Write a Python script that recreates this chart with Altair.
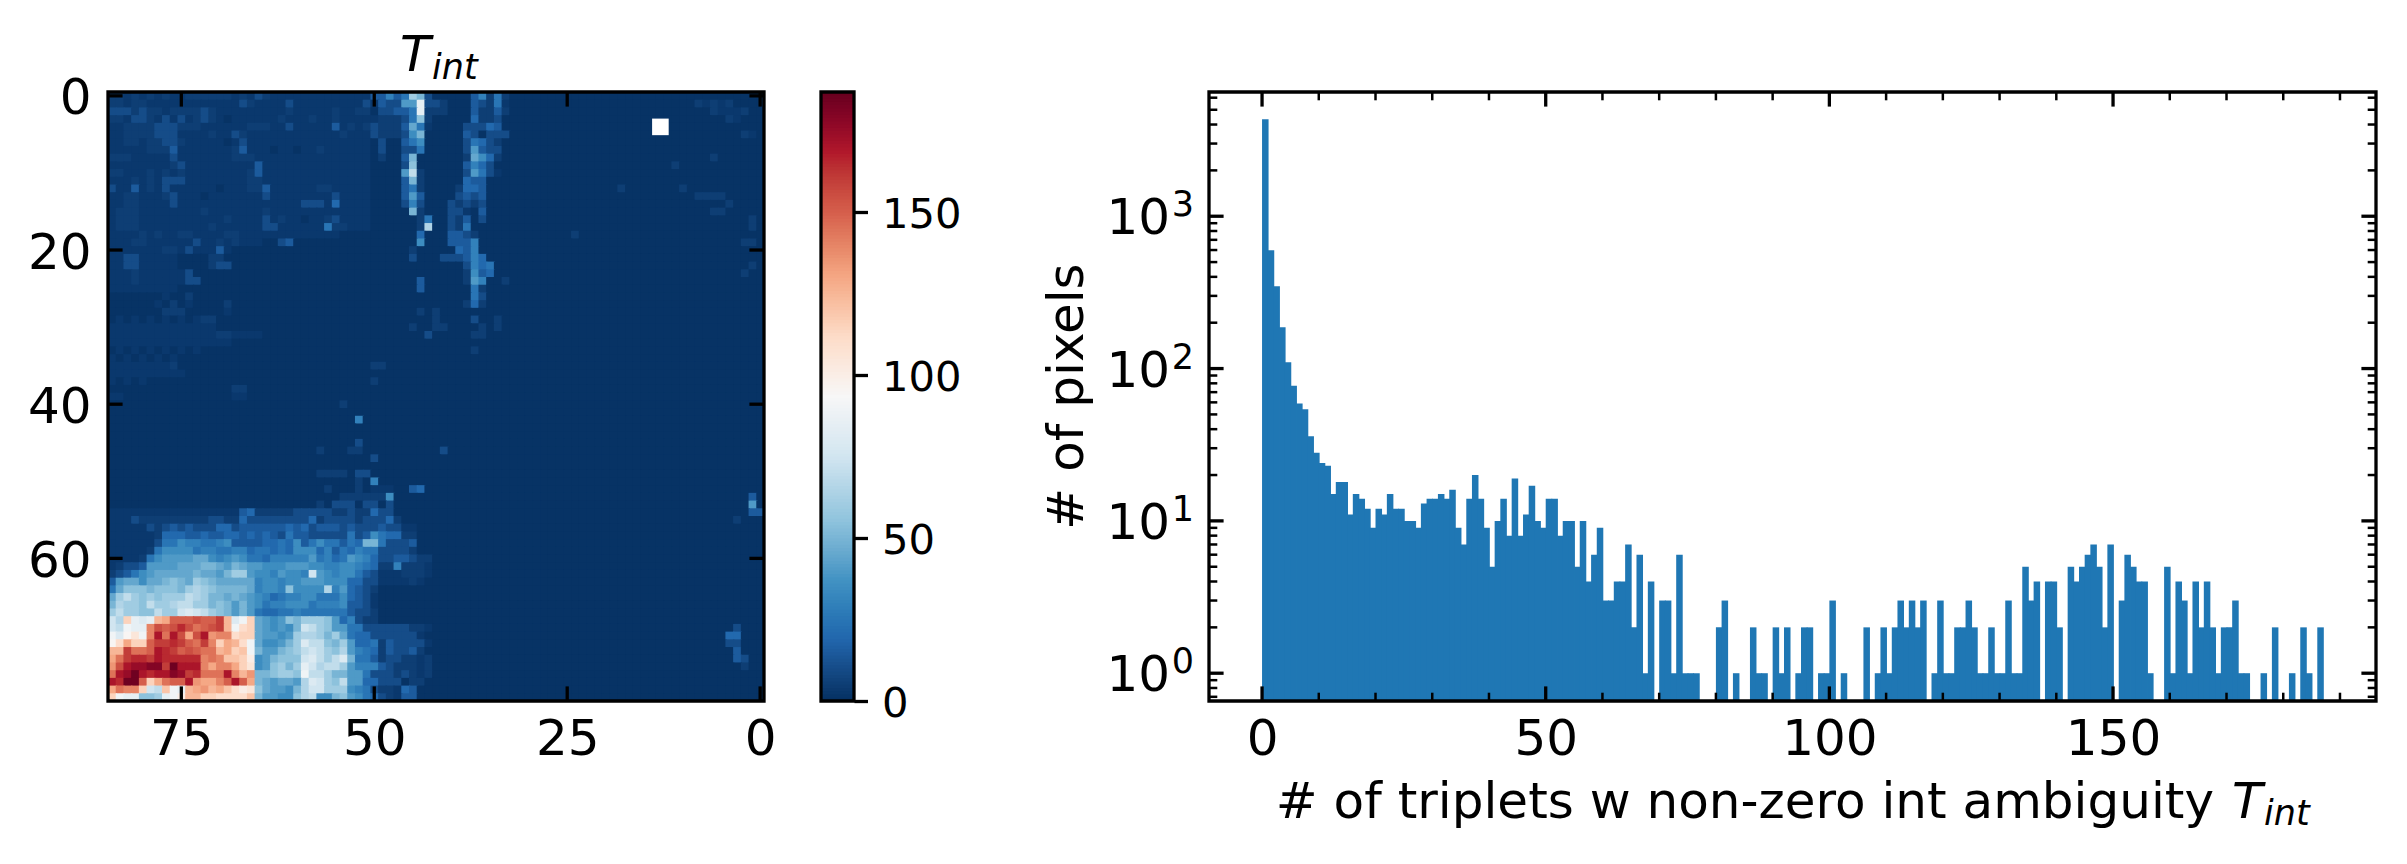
import altair as alt
import pandas as pd

FONT = "DejaVu Sans"
VMAX = 187
COLOR_STOPS = [0, 18.7, 37.4, 56.1, 74.8, 93.5, 112.2, 130.9, 149.6, 168.3, 187]
COLOR_RANGE = ["#053061", "#2166ac", "#4393c3", "#92c5de", "#d1e5f0", "#f7f7f7",
               "#fddbc7", "#f4a582", "#d6604d", "#b2182b", "#67001f"]

# level code for each map cell: '.'=1, ':'=3, then 5-unit steps
LEVELS = {".": 1, ":": 3}
for i, ch in enumerate("123456789abcdefghijklmnopqrstuvwxyzAB", start=1):
    LEVELS[ch] = i * 5

# upper-left rows, from column 0
UPPER_LEFT = {
 0: "11:1:1:1::" "111111:1:2" "1:::::::::" "::::",
 1: "11:11:::::" ":::::::21:" ":::2::::::" ":::2",
 2: "2221211:11" "1121::::::" ":::1:::::1" "::11",
 3: "11:221:2:2" ":121:.::::" "::1:::1::1" "::::",
 4: "::11112221" "11::::::11" "1::2:::::3" ":1:1",
 5: "::1111222:" ":::1::21::" "::::::::::" "1:::",
 6: "::11:11221" ":::::.:2::" "::::::::::" "::::",
 7: ":::::1113:" "::::::13::" ":.::.::1::" "::::",
 8: "111:::::2:" "::::::111:" "::::::::::" "::::",
 9: "::::::::12" ":::::::::3" "::::::::::" "::::",
 10: "11:::1:1:1" "::::::::13" "::::::::::" "::::",
 11: ":::1:1:222" "::::::::11" "::::::::::" "::::",
 12: "2::3:1:2::" "::::.:::11" "3::::::11:" "::::",
 13: "::11:::12:" "::.:::::::" "2::::::::2" "::::",
 14: "::11::::2:" "::::::::::" ":::::222:4" "::::",
 15: ":111::::::" "::1:::::::" "1:::::::::" "::::",
 16: ":111::::::" ":::::1::::" "2:1::.::12" "::::",
 17: ":111::::::" ":::1::::::" "22::::::51" "1:::",
 18: "::::1:1::1" "1::::11:::" "::::::::::",
 19: ":::11:::::" ":2::1:1:::" "..23......",
 20: ":::::::11:" "2:::3:....",
 21: "::22:::::." "...11.....",
 22: "::22:::::." "...122....",
 23: ":::1::::::" "2",
 24: ":::1::::::" "22",
 25: ":::::::::",
 26: ".......:..1",
 27: "......:.1.:....1",
 28: ".......111.....:",
 29: ".:.:.:.:.:.:11",
 30: "::::::::::::::",
 31: "::::::::::::::11::::",
 32: "::::::::::::::::",
 33: ".:.:.:.:.:.:",
 34: ":.:.:.:.:.",
 35: "::::::::1",
 36: "::::::::::",
 37: ":.:.:.",
 38: "................11",
 39: "::..............::",
}

# lower-left rows, from column 0
LOWER_LEFT = {
 54: ":::::::::::::::::34111112222211",
 55: ":::2111111111221142222222241222",
 56: ":::::2123232224423333334342333",
 57: "::::::1444334334434343253322222",
 58: "::::::2557665567333344547357553",
 59: ":::::1577775665566455454777463",
 60: "::::15788889976787554666668564",
 61: ":12238888999aa98a98877788877666",
 62: "12357" "89999" "9a998" "acc87" "76877" "6f876" "6",
 63: "38997" "99aba" "9cba9" "99996" "77677" "88877" "7",
 64: "59bbb" "abbba" "cdcba" "aaa96" "776b7" "777d6" "6",
 65: "9cecb" "cbccc" "edcaa" "9a987" "64566" "77555" "5",
 66: "adccb" "eccde" "eccab" "a8a87" "56677" "75666" "5",
 67: "ceccb" "beccf" "gfecb" "a8a85" "44556" "55555" "3",
 68: "fdnhg" "hpquu" "uvuuw" "pgin9" "878ba" "cccb8" "5",
 69: "feihh" "svuvx" "vtuvw" "pimn9" "8787a" "fecb8" "7",
 70: "igjli" "sytyv" "qvyrs" "smnn9" "8878c" "ddcac" "7",
 71: "jmqnn" "uwwxw" "utwsn" "qpmi9" "778ac" "geeba" "a",
 72: "ppwtt" "uyxwu" "vuttp" "qnoia" "88abc" "efecb" "b",
 73: "qtwxx" "wyxxx" "xxsts" "oonk7" "8abbb" "fgece" "e",
 74: "rvyzz" "AAwBy" "yysqs" "sqnl7" "8bcac" "hfdee" "d",
 75: "tyzBy" "xyyAz" "wxttt" "yspra" "abccb" "ieeca" "a",
 76: "yxBBu" "nqtuu" "yrqqs" "uyuqa" "98998" "dgfcb" "a",
 77: "qtssn" "feoih" "pqrpq" "omklb" "9887a" "dffcc" "a",
 78: "nihhb" "bchik" "ppnnm" "mmmoa" "8877b" "de77a" "a",
}

# lower-middle rows, from column 30
LOWER_MIDDLE = {
 54: "1211422", 55: "22122241", 56: "23222322::", 57: "2523754411",
 58: "354aa52223", 59: "5465522221", 60: "587642233211", 61: "77654116111:",
 62: "77532:::111:", 63: "74422::::1:", 64: "84321", 65: "7432:", 66: "7332:",
 67: "53221", 68: "46211", 69: "85522222211:", 70: "9544222222:",
 71: "c8445132222:", 72: "d8654132231", 73: "ga55312211:1", 74: "c866632111:1",
 75: "a885222121:1", 76: "e8844222.11", 77: "c765211:43", 78: "b875421:33",
}

# streaks and isolated cells: (row, column, codes)
SPARSE = [
 (0, 34, "33635ca2"), (0, 47, "36151"), (1, 34, ":32288h221"), (1, 47, "3215:"),
 (2, 34, ".22335h111"), (2, 47, "31131"), (3, 34, ":11125b1"), (3, 47, "4112"),
 (4, 34, "2111395:"), (4, 46, "22243"), (5, 34, "211127a"), (5, 46, "32.222"),
 (6, 35, "2..357"), (6, 46, "25421"), (7, 35, "2..225"), (7, 46, "28322"),
 (8, 35, "1..3a."), (8, 46, "19741"), (9, 38, "2b."), (9, 46, "3642"),
 (10, 38, "8e1"), (10, 46, "2852:"), (11, 38, "3a1"), (11, 46, "433"),
 (12, 38, "351"), (12, 45, "1443"), (13, 38, "383"), (13, 45, "2323"),
 (14, 38, "262"), (14, 44, "21212"), (15, 39, "a1"), (15, 44, "22:.3"),
 (16, 40, "15"), (16, 44, "213.2"), (17, 40, "1d"), (17, 44, "215"),
 (18, 40, "4"), (18, 44, "3321"), (19, 40, "7"), (19, 44, "3336"),
 (20, 39, "1"), (20, 45, "436"), (21, 39, "2"), (21, 43, "222364"),
 (22, 46, "2645"), (23, 46, "1734"), (24, 40, "3"), (24, 46, "186"), (24, 51, "1"),
 (25, 40, "3"), (25, 47, "51"), (26, 47, "52"), (27, 46, "141"),
 (28, 40, "1.1"), (29, 42, "1"), (29, 47, "2"), (29, 50, "1"),
 (30, 39, "1"), (30, 42, "11"), (30, 48, "1"), (30, 50, "1"),
 (31, 41, "2"), (31, 47, "11"), (33, 47, "1"), (35, 34, "11"),
 (37, 34, "1"), (40, 30, "1"), (42, 32, "6"), (45, 32, "2"),
 (46, 27, "1"), (46, 31, "11"), (46, 43, "2"), (47, 34, "2"),
 (49, 27, "1111"), (49, 32, "22"), (50, 34, "6"), (50, 32, "1"),
 (51, 28, "1"), (51, 32, "1"), (51, 34, ":::"), (51, 39, "34"),
 (52, 30, "111111"), (52, 36, "7"), (53, 27, "1.222"), (53, 33, "22"),
 (53, 36, "2"), (52, 83, "3"), (53, 83, "8"), (54, 83, "33"), (55, 81, "1"),
 (69, 81, "2"), (70, 80, "44"), (71, 80, "22"), (72, 81, "3"),
 (73, 81, "32"), (74, 82, "1"),
 (1, 76, "1:1:1"), (2, 78, "1:::1"), (3, 80, "1:"), (5, 82, "1:"), (8, 78, "1"),
 (9, 73, "1"), (12, 66, "1"), (12, 74, "1"), (13, 76, "1111"), (14, 80, "1"),
 (15, 78, "11"), (16, 83, "1"), (17, 83, "1"), (18, 60, "1"), (19, 82, "11"),
 (22, 83, "1"), (23, 82, "1"),
]
# blank (no data) patch of the map, in its own axis units
BLANK_X = [14.0]
BLANK_X2 = [11.85]
BLANK_Y = [2.95]
BLANK_Y2 = [5.1]

# histogram counts, one per unit-wide bin starting at 0
HIST_COUNTS = [
 4325, 598, 347, 187, 110, 77, 59, 54, 36, 28, 24, 23, 15, 18, 18, 11, 15, 14, 12, 9,
 12, 11, 15, 12, 12, 10, 10, 9, 13, 14, 14, 15, 14, 16, 9, 7, 14, 20, 14, 9,
 5, 10, 14, 8, 19, 8, 11, 17, 10, 9, 14, 14, 8, 10, 10, 5, 10, 4, 6, 9,
 3, 3, 4, 4, 7, 2, 6, 1, 4, 0, 3, 3, 1, 6, 1, 1, 1, 0, 0, 0,
 2, 3, 0, 1, 0, 0, 2, 1, 1, 0, 2, 1, 2, 0, 1, 2, 2, 0, 1, 1,
 3, 0, 1, 0, 0, 0, 2, 0, 1, 2, 1, 2, 3, 2, 3, 2, 3, 0, 1, 3,
 1, 1, 2, 2, 3, 2, 1, 1, 2, 1, 1, 3, 1, 1, 5, 3, 4, 0, 4, 4,
 2, 0, 5, 4, 5, 6, 7, 5, 2, 7, 0, 3, 6, 5, 4, 4, 1, 0, 0, 5,
 1, 4, 3, 1, 4, 2, 4, 2, 1, 2, 2, 3, 1, 1, 0, 0, 1, 0, 2, 0,
 0, 1, 0, 2, 1, 0, 2,
]

MAP_X_TICKS = [75, 50, 25, 0]
MAP_Y_TICKS = [0, 20, 40, 60]
CBAR_TICKS = [0, 50, 100, 150]
CBAR_LEVELS = list(range(0, 187))
HIST_X_MAJOR = [0, 50, 100, 150]
HIST_X_MINOR = [10, 20, 30, 40, 60, 70, 80, 90, 110, 120, 130, 140, 160, 170, 180, 190]
HIST_Y_MAJOR = [1, 10, 100, 1000]
HIST_EXPONENTS = ["0", "1", "2", "3"]
HIST_Y_MINOR = [0.7, 0.8, 0.9, 2, 3, 4, 5, 6, 7, 8, 9, 20, 30, 40, 50, 60, 70, 80, 90,
                200, 300, 400, 500, 600, 700, 800, 900, 2000, 3000, 4000, 5000, 6000]
HIST_Y_DOMAIN = [0.657, 6540]
HIST_X_DOMAIN = [-9.35, 196.35]

# ---- build map table
grid = [["."] * 85 for _ in range(79)]
def put(r, c, s):
    for k, ch in enumerate(s):
        if c + k < 85:
            grid[r][c + k] = ch
for r, s in UPPER_LEFT.items():
    put(r, 0, s)
for r, s in LOWER_LEFT.items():
    put(r, 0, s)
for r, s in LOWER_MIDDLE.items():
    put(r, 30, s)
for r, c, s in SPARSE:
    put(r, c, s)
map_records = []
for r in range(79):
    for c in range(85):
        xv = 84 - c
        map_records.append({"x": xv + 0.5, "x2": xv - 0.66, "y": r - 0.5, "y2": r + 0.66,
                            "value": LEVELS[grid[r][c]]})
map_df = pd.DataFrame(map_records)

M_W, M_H = 656, 609
C_W = 33
H_W, H_H = 1167, 609
SW = 3.3
GAP = 57
SPACER_W = 241

color_scale = alt.Scale(domain=COLOR_STOPS, range=COLOR_RANGE)
mx = alt.Scale(domain=[84.5, -0.5], nice=False, zero=False)
my = alt.Scale(domain=[78.5, -0.5], nice=False, zero=False)
hx = alt.Scale(domain=HIST_X_DOMAIN, nice=False, zero=False)
hy = alt.Scale(type="log", domain=HIST_Y_DOMAIN, nice=False)

def frame(w, h):
    return alt.Chart(pd.DataFrame({"a": [0]})).mark_rect(
        fill=None, stroke="black", strokeWidth=SW, filled=False
    ).encode(x=alt.value(0), x2=alt.value(w), y=alt.value(0), y2=alt.value(h))

def axis_x(vals, size=50, pad=13):
    return alt.Axis(values=vals, ticks=False, domain=False, grid=False, title=None,
                    labelFontSize=size, labelFont=FONT, labelColor="black", labelPadding=pad,
                    labelFlush=False, labelOverlap=False, labelBound=False)

def axis_y(vals, size=50, pad=17):
    return alt.Axis(values=vals, ticks=False, domain=False, grid=False, title=None,
                    labelFontSize=size, labelFont=FONT, labelColor="black", labelPadding=pad,
                    labelFlush=False, labelOverlap=False, labelBound=False, labelOffset=3)

def x_ticks(vals, scale, axis, h, length, width):
    d = pd.DataFrame({"v": vals})
    ax = alt.X("v:Q", scale=scale, axis=axis)
    base = alt.Chart(d).mark_rule(color="black", strokeWidth=width)
    return (base.encode(x=ax, y=alt.value(0), y2=alt.value(length))
            + base.encode(x=ax, y=alt.value(h), y2=alt.value(h - length)))

def y_ticks(vals, scale, axis, w, length, width):
    d = pd.DataFrame({"v": vals})
    ay = alt.Y("v:Q", scale=scale, axis=axis)
    base = alt.Chart(d).mark_rule(color="black", strokeWidth=width)
    return (base.encode(y=ay, x=alt.value(0), x2=alt.value(length))
            + base.encode(y=ay, x=alt.value(w), x2=alt.value(w - length)))

def label(text, x, y, size=50, italic=False, align="left", angle=0):
    kw = {"fontStyle": "italic"} if italic else {}
    return alt.Chart(pd.DataFrame({"a": [0]})).mark_text(
        font=FONT, fontSize=size, color="black", align=align, baseline="alphabetic",
        angle=angle, **kw
    ).encode(x=alt.value(x), y=alt.value(y), text=alt.value(text))

M_AX_X = axis_x(MAP_X_TICKS)
M_AX_Y = axis_y(MAP_Y_TICKS)
heat = alt.Chart(map_df).mark_rect(clip=True).encode(
    x=alt.X("x:Q", scale=mx, axis=M_AX_X),
    x2="x2:Q",
    y=alt.Y("y:Q", scale=my, axis=M_AX_Y),
    y2="y2:Q",
    color=alt.Color("value:Q", scale=color_scale, legend=None),
)
blank_df = pd.DataFrame({"x": BLANK_X, "x2": BLANK_X2, "y": BLANK_Y, "y2": BLANK_Y2})
blank = alt.Chart(blank_df).mark_rect(color="white").encode(
    x=alt.X("x:Q", scale=mx, axis=M_AX_X), x2="x2:Q",
    y=alt.Y("y:Q", scale=my, axis=M_AX_Y), y2="y2:Q",
)
left_panel = alt.layer(
    heat,
    blank,
    x_ticks(MAP_X_TICKS, mx, M_AX_X, M_H, 14.6, SW),
    y_ticks(MAP_Y_TICKS, my, M_AX_Y, M_W, 14.6, SW),
    frame(M_W, M_H),
    label("T", 292, -21, 50, italic=True),
    label("int", 324, -13, 35, italic=True),
).properties(width=M_W, height=M_H)

cbar_df = pd.DataFrame({"lo": CBAR_LEVELS})
cbar_df["hi"] = cbar_df["lo"] + 1.35
cbar_df["mid"] = cbar_df["lo"] + 0.5
cy = alt.Scale(domain=[0, VMAX], nice=False, zero=False)
cbar = alt.Chart(cbar_df).mark_rect(clip=True).encode(
    x=alt.value(0), x2=alt.value(C_W),
    y=alt.Y("lo:Q", scale=cy, axis=alt.Axis(
        values=CBAR_TICKS, orient="right", tickSize=13.5, tickWidth=SW, tickColor="black",
        domain=False, grid=False, title=None, labelFontSize=41.7, labelFont=FONT,
        labelColor="black", labelPadding=14, labelFlush=False, labelOverlap=False, labelBound=False,
        labelOffset=2)),
    y2="hi:Q",
    color=alt.Color("mid:Q", scale=color_scale, legend=None),
)
cbar_panel = alt.layer(cbar, frame(C_W, M_H)).properties(width=C_W, height=M_H)

spacer = alt.Chart(pd.DataFrame({"a": [0]})).mark_point(opacity=0).encode(
    x=alt.value(0), y=alt.value(0)
).properties(width=SPACER_W, height=M_H)

H_AX_X = axis_x(HIST_X_MAJOR)
hist_df = pd.DataFrame({"lo": range(len(HIST_COUNTS)), "n": HIST_COUNTS})
hist_df = hist_df[hist_df["n"] > 0].copy()
hist_df["hi"] = hist_df["lo"] + 1.15
hist_df["base"] = HIST_Y_DOMAIN[0]
bars = alt.Chart(hist_df).mark_rect(color="#1f77b4", clip=True).encode(
    x=alt.X("lo:Q", scale=hx, axis=H_AX_X),
    x2="hi:Q",
    y=alt.Y("n:Q", scale=hy, axis=None),
    y2="base:Q",
)
exp_df = pd.DataFrame({"v": HIST_Y_MAJOR, "e": HIST_EXPONENTS, "t": ["10"] * 4})
ten = alt.Chart(exp_df).mark_text(font=FONT, fontSize=50, color="black", align="right",
                                  baseline="alphabetic", dy=18).encode(
    y=alt.Y("v:Q", scale=hy, axis=None), x=alt.value(-39), text="t:N")
exps = alt.Chart(exp_df).mark_text(font=FONT, fontSize=35, color="black", align="right",
                                   baseline="alphabetic").encode(
    y=alt.Y("v:Q", scale=hy, axis=None), x=alt.value(-15), text="e:N")
right_panel = alt.layer(
    bars,
    x_ticks(HIST_X_MAJOR, hx, H_AX_X, H_H, 14.6, SW),
    x_ticks(HIST_X_MINOR, hx, H_AX_X, H_H, 8.3, 2.5),
    y_ticks(HIST_Y_MAJOR, hy, None, H_W, 14.6, SW),
    y_ticks(HIST_Y_MINOR, hy, None, H_W, 8.3, 2.5),
    frame(H_W, H_H),
    ten, exps,
    label("# of pixels", -126, H_H / 2, 50, angle=270, align="center"),
    label("# of triplets w non-zero int ambiguity", 1005, 726, 50, align="right"),
    label("T", 1023, 726, 50, italic=True),
    label("int", 1055, 733, 35, italic=True),
).properties(width=H_W, height=H_H)

chart = alt.hconcat(left_panel, cbar_panel, spacer, right_panel, spacing=GAP, bounds="flush").properties(
    padding={"left": 19, "top": 23, "right": 5, "bottom": 5}
).resolve_scale(x="independent", y="independent").configure_view(stroke=None)

chart.save("out.html", embed_options={"renderer": "svg", "actions": False})
